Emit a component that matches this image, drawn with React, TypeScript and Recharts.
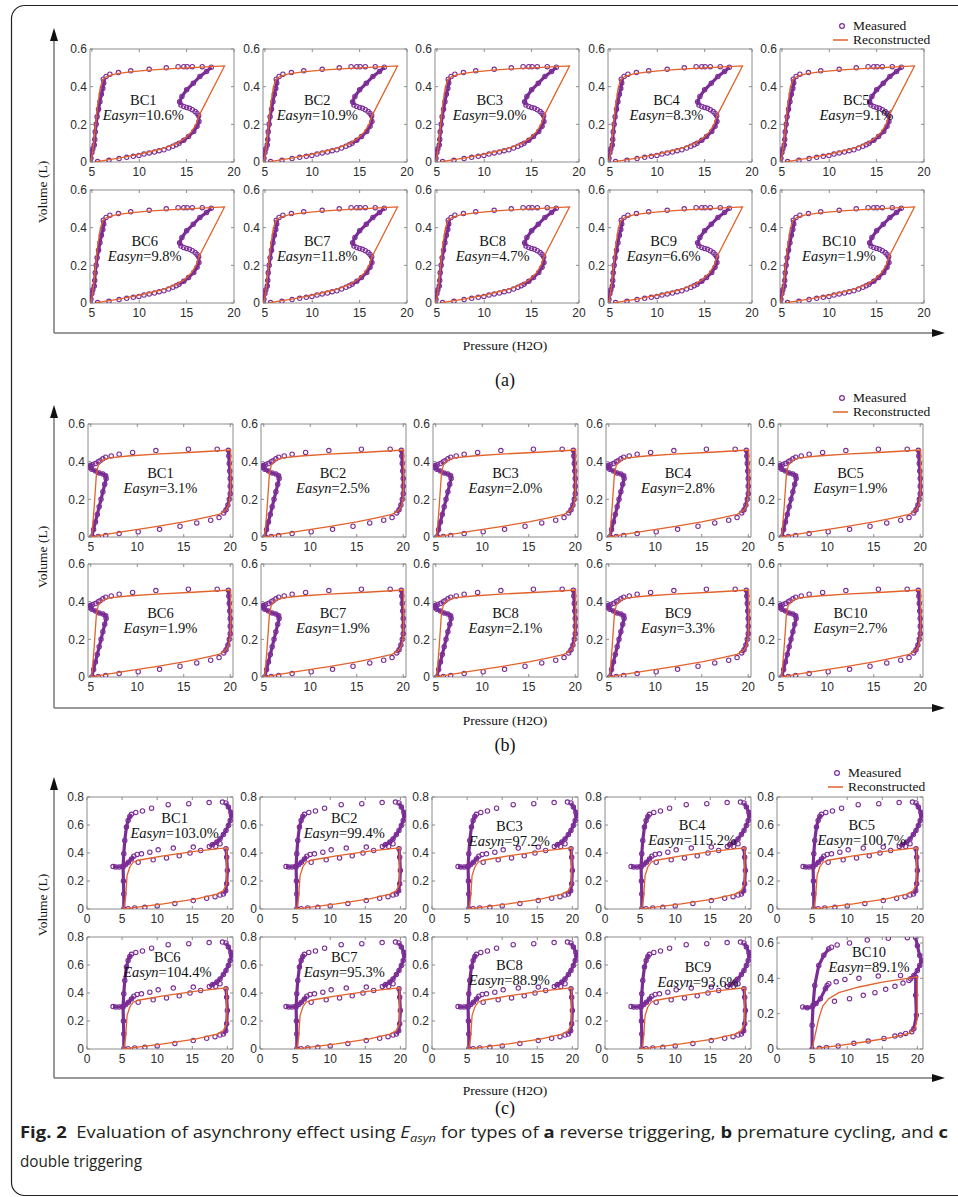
import React from 'react';
import { ScatterChart, Scatter, XAxis, YAxis, ReferenceArea } from 'recharts';

type P = [number, number];

// ---------- (a) reverse triggering ----------
const A_RISE: P[] = [[4.85, 0], [4.9, 0.02], [5.0, 0.05], [5.1, 0.07], [5.25, 0.09], [5.3, 0.12], [5.35, 0.16], [5.45, 0.2], [5.55, 0.24], [5.7, 0.28], [5.85, 0.32], [6.0, 0.36], [6.15, 0.39], [6.25, 0.42], [6.2, 0.44]];
const A_TOP: P[] = [[6.5, 0.454], [6.9, 0.466], [7.8, 0.475], [9.1, 0.484], [11.05, 0.492], [12.85, 0.5], [14.1, 0.506], [14.7, 0.506], [15.05, 0.506], [15.6, 0.506], [16.65, 0.506]];
const A_SDESC: P[] = [[17.6, 0.503], [17.1, 0.48], [16.4, 0.454], [15.7, 0.418], [15.0, 0.383], [14.5, 0.348], [14.26, 0.32], [14.4, 0.302]];
const A_SMID: P[] = [[14.7, 0.295], [15.0, 0.29], [15.3, 0.285], [15.6, 0.278], [15.9, 0.268], [16.1, 0.258]];
const A_SLOW: P[] = [[16.27, 0.245], [16.3, 0.215], [16.1, 0.19], [15.75, 0.162], [15.2, 0.136], [14.7, 0.115], [14.2, 0.1]];
const A_BOTTOM: P[] = [[13.9, 0.092], [13.55, 0.083], [13.1, 0.074], [12.6, 0.065], [12.1, 0.06], [11.6, 0.053], [11.05, 0.048], [10.5, 0.042], [9.96, 0.035], [9.37, 0.03], [8.67, 0.025], [7.87, 0.018], [6.8, 0.009], [5.6, 0.002]];
const A_RECON: P[] = [[4.85, 0], [5.0, 0.03], [5.2, 0.1], [5.4, 0.2], [5.6, 0.3], [5.9, 0.4], [6.2, 0.44], [6.6, 0.455], [7.5, 0.468], [9, 0.478], [11, 0.488], [13, 0.495], [15, 0.5], [17, 0.505], [19, 0.51], [16.3, 0.245], [16.0, 0.2], [15.5, 0.16], [14.8, 0.125], [14, 0.1], [13, 0.08], [12, 0.065], [10, 0.042], [8, 0.022], [6.5, 0.01], [5.4, 0]];

// ---------- (b) premature cycling ----------
const B_RISE: P[] = [[5.1, 0], [5.3, 0.04], [5.5, 0.08], [5.7, 0.12], [5.9, 0.16], [6.1, 0.2], [6.3, 0.24], [6.5, 0.28], [6.65, 0.31], [6.6, 0.325], [6.3, 0.335], [5.9, 0.34], [5.5, 0.35], [5.1, 0.36], [4.85, 0.37], [4.95, 0.38], [5.2, 0.385]];
const B_TOP: P[] = [[5.5, 0.39], [5.8, 0.4], [6.0, 0.405], [6.3, 0.415], [6.6, 0.424], [7.2, 0.43], [8.05, 0.44], [9.5, 0.449], [12.0, 0.459], [15.5, 0.466], [18.6, 0.466]];
const B_RIGHT: P[] = [[19.8, 0.46], [19.85, 0.43], [19.9, 0.39], [19.95, 0.35], [20.0, 0.31], [20.0, 0.27], [20.0, 0.23], [19.9, 0.2], [19.75, 0.17], [19.55, 0.145], [19.3, 0.128]];
const B_BOTTOM: P[] = [[18.8, 0.103], [17.9, 0.089], [16.4, 0.075], [14.6, 0.057], [12.4, 0.041], [10.1, 0.028], [8.05, 0.018], [6.6, 0.008], [5.8, 0.003], [5.2, 0]];
const B_RECON: P[] = [[5.1, 0], [5.35, 0.15], [5.6, 0.33], [5.8, 0.38], [6.2, 0.405], [7, 0.42], [9, 0.43], [12, 0.44], [16, 0.45], [20.05, 0.462], [20.05, 0.3], [20, 0.22], [19.85, 0.17], [19.5, 0.14], [18.8, 0.12], [17, 0.1], [15, 0.08], [12, 0.055], [9, 0.032], [6.5, 0.013], [5.1, 0]];

// ---------- (c) double triggering ----------
const C_RISE: P[] = [[5.24, 0], [5.24, 0.107], [5.19, 0.2], [5.14, 0.3], [5.24, 0.394], [5.38, 0.49], [5.62, 0.585], [5.86, 0.633], [6.1, 0.66], [6.33, 0.676]];
const C_HOOK: P[] = [[3.71, 0.303], [4.1, 0.3], [4.57, 0.3], [5.05, 0.303], [5.52, 0.318], [5.9, 0.334], [6.33, 0.358], [6.67, 0.377]];
const C_TOP: P[] = [[6.95, 0.69], [7.9, 0.7], [9.2, 0.72], [11.57, 0.745], [14.5, 0.752], [17.4, 0.76], [19.3, 0.764]];
const C_RTOP: P[] = [[19.8, 0.757], [20.14, 0.728], [20.5, 0.69], [20.6, 0.67], [20.4, 0.633], [20.14, 0.597], [19.8, 0.561], [19.43, 0.533], [18.95, 0.5], [18.5, 0.478], [17.9, 0.46], [17.43, 0.447]];
const C_MIDUP: P[] = [[7.14, 0.39], [7.76, 0.394], [8.95, 0.406], [10.14, 0.423], [12.29, 0.435], [15.14, 0.442]];
const C_MIDLOW: P[] = [[7.29, 0.334], [9.43, 0.351], [11.33, 0.365], [13.14, 0.38], [14.67, 0.4], [16.19, 0.418], [18.33, 0.447], [18.95, 0.466]];
const C_RLOW: P[] = [[19.8, 0.43], [19.9, 0.37], [20.0, 0.275], [19.9, 0.18], [19.76, 0.131], [19.43, 0.107]];
const C_BOTTOM: P[] = [[18.95, 0.1], [18.24, 0.088], [17.05, 0.076], [15.14, 0.06], [12.52, 0.04], [10.0, 0.022], [8.24, 0.012], [6.8, 0.007], [5.86, 0.002]];
const C_RECON: P[] = [[5.24, 0], [5.5, 0.08], [5.71, 0.239], [6.1, 0.3], [6.57, 0.334], [7.5, 0.35], [10.86, 0.38], [15.6, 0.413], [19.8, 0.437], [19.9, 0.437], [19.9, 0.18], [19.43, 0.131], [18.5, 0.107], [15.6, 0.072], [10.86, 0.036], [6.1, 0.007], [5.24, 0]];

// (c) BC10 (own y range)
const C10_RISE: P[] = [[5.0, 0], [5.0, 0.135], [5.14, 0.248], [5.38, 0.36], [5.95, 0.473], [6.67, 0.53], [7.38, 0.567]];
const C10_HOOK: P[] = [[3.67, 0.238], [4.3, 0.233], [5.0, 0.238], [5.57, 0.257], [6.19, 0.285], [6.9, 0.341], [7.14, 0.36]];
const C10_TOP: P[] = [[7.76, 0.576], [8.57, 0.589], [10.33, 0.6], [12.86, 0.617], [15.86, 0.627], [18.57, 0.63]];
const C10_RTOP: P[] = [[19.76, 0.63], [20.0, 0.585], [20.33, 0.529], [20.6, 0.5], [20.33, 0.473], [20.0, 0.445], [19.5, 0.416], [19.05, 0.398]];
const C10_MIDUP: P[] = [[7.38, 0.37], [8.43, 0.38], [9.67, 0.394], [11.67, 0.4], [14.43, 0.413], [17.6, 0.416]];
const C10_MIDLOW: P[] = [[8.19, 0.27], [10.33, 0.285], [12.29, 0.304], [13.95, 0.319], [15.48, 0.338], [16.8, 0.355], [17.95, 0.373], [18.8, 0.388]];
const C10_RLOW: P[] = [[19.76, 0.407], [19.76, 0.304], [19.86, 0.191], [19.5, 0.116], [19.2, 0.098]];
const C10_BOTTOM: P[] = [[18.33, 0.088], [17.6, 0.079], [16.8, 0.073], [15.24, 0.06], [13.0, 0.045], [10.95, 0.032], [8.71, 0.017], [7.05, 0.009], [6.05, 0.004]];
const C10_RECON: P[] = [[5.0, 0], [5.95, 0.173], [6.52, 0.243], [7.38, 0.285], [8.8, 0.319], [11.67, 0.351], [15.0, 0.379], [19.76, 0.407], [20.0, 0.407], [20.0, 0.173], [19.67, 0.116], [18.8, 0.088], [16.43, 0.066], [12.6, 0.041], [8.8, 0.019], [5.48, 0.004]];

// ---------- labels ----------
const BC_NAMES = ['BC1', 'BC2', 'BC3', 'BC4', 'BC5', 'BC6', 'BC7', 'BC8', 'BC9', 'BC10'];
const A_EASYN = ['10.6', '10.9', '9.0', '8.3', '9.1', '9.8', '11.8', '4.7', '6.6', '1.9'];
const B_EASYN = ['3.1', '2.5', '2.0', '2.8', '1.9', '1.9', '1.9', '2.1', '3.3', '2.7'];
const C_EASYN = ['103.0', '99.4', '97.2', '115.2', '100.7', '104.4', '95.3', '88.9', '93.6', '89.1'];

const X_TICKS_AB = [5, 10, 15, 20];
const X_TICKS_C = [0, 5, 10, 15, 20];
const Y_TICKS_06 = [0, 0.2, 0.4, 0.6];
const Y_TICKS_08 = [0, 0.2, 0.4, 0.6, 0.8];

// ---------- layout (not data) ----------
const A_LABEL_FX = [0.37, 0.38, 0.38, 0.41, 0.53, 0.38, 0.38, 0.4, 0.39, 0.41];
const C_LABEL_FX = [0.6, 0.58, 0.53, 0.6, 0.58, 0.55, 0.58, 0.53, 0.64, 0.63];
const C_LABEL_DY = [21, 21, 29, 28, 28, 20, 20, 28, 30, 15];

const PURPLE = '#7B2D96';
const ORANGE = '#E2622A';
const FRAME = '#8c8c8c';
const SERIF = "'Liberation Serif', 'Times New Roman', serif";
const SANS = "'Liberation Sans', Arial, sans-serif";
const toPts = (a: P[]) => a.map(([x, y]) => ({ x, y }));

const Circle = (props: any) => {
  const { cx, cy } = props;
  if (cx == null || cy == null) return <g />;
  return <circle cx={cx} cy={cy} r={2.2} fill="none" stroke={PURPLE} strokeWidth={1.1} />;
};
const Nothing = () => <g />;

type PanelProps = {
  left: number; top: number; w: number; h: number;
  xDomain: [number, number]; yDomain: [number, number];
  xTicks: number[]; yTicks: number[];
  dense: P[][]; sparse: P[][]; recon: P[];
  name: string; easyn: string; fx: number; dy: number;
};

function Panel(p: PanelProps) {
  const ml = 30, mt = 6, mr = 10, xh = 22;
  const XTick = (t: any) => {
    const x = t.x;
    return (
      <g>
        <line x1={x} x2={x} y1={mt + p.h} y2={mt + p.h - 3} stroke={FRAME} strokeWidth={1} />
        <line x1={x} x2={x} y1={mt} y2={mt + 3} stroke={FRAME} strokeWidth={1} />
        <text x={x} y={mt + p.h + 14} textAnchor="middle" fontFamily={SANS} fontSize={12} fill="#2b2b2b">{t.payload.value}</text>
      </g>
    );
  };
  const YTick = (t: any) => {
    const y = t.y;
    return (
      <g>
        <line x1={ml} x2={ml + 3} y1={y} y2={y} stroke={FRAME} strokeWidth={1} />
        <line x1={ml + p.w} x2={ml + p.w - 3} y1={y} y2={y} stroke={FRAME} strokeWidth={1} />
        <text x={ml - 3} y={y + 4.2} textAnchor="end" fontFamily={SANS} fontSize={12} fill="#2b2b2b">{t.payload.value}</text>
      </g>
    );
  };
  return (
    <div style={{ position: 'absolute', left: p.left - ml, top: p.top - mt }}>
      <ScatterChart width={ml + p.w + mr} height={mt + p.h + xh} margin={{ top: mt, right: mr, left: 0, bottom: 0 }}>
        <XAxis type="number" dataKey="x" domain={p.xDomain} ticks={p.xTicks} allowDataOverflow height={xh}
          axisLine={false} tickLine={false} tickSize={0} tickMargin={0} tick={XTick} interval={0} />
        <YAxis type="number" dataKey="y" domain={p.yDomain} ticks={p.yTicks} allowDataOverflow width={ml}
          axisLine={false} tickLine={false} tickSize={0} tickMargin={0} tick={YTick} interval={0} />
        <ReferenceArea x1={p.xDomain[0]} x2={p.xDomain[1]} y1={p.yDomain[0]} y2={p.yDomain[1]}
          fill="none" fillOpacity={0} stroke={FRAME} strokeWidth={1} ifOverflow="visible" />
        {p.dense.map((d, i) => (
          <Scatter key={'d' + i} data={toPts(d)} isAnimationActive={false} shape={Circle}
            line={{ stroke: PURPLE, strokeWidth: 3.2 }} lineJointType="linear" />
        ))}
        {p.sparse.map((d, i) => (
          <Scatter key={'s' + i} data={toPts(d)} isAnimationActive={false} shape={Circle} />
        ))}
        <Scatter data={toPts(p.recon)} isAnimationActive={false} shape={Nothing}
          line={{ stroke: ORANGE, strokeWidth: 1.3 }} lineJointType="linear" />
      </ScatterChart>
      <div style={{ position: 'absolute', left: ml + p.w * p.fx, top: mt + p.dy, transform: 'translate(-50%, -50%)', whiteSpace: 'nowrap', fontFamily: SERIF, fontSize: 14.5, color: '#111', lineHeight: 1 }}>{p.name}</div>
      <div style={{ position: 'absolute', left: ml + p.w * p.fx, top: mt + p.dy + 15, transform: 'translate(-50%, -50%)', whiteSpace: 'nowrap', fontFamily: SERIF, fontSize: 14.5, color: '#111', lineHeight: 1 }}>
        <i>Easyn</i>={p.easyn}%
      </div>
    </div>
  );
}

function Legend({ x, y }: { x: number; y: number }) {
  const style: React.CSSProperties = { position: 'absolute', fontFamily: SERIF, fontSize: 13.5, color: '#111', whiteSpace: 'nowrap', lineHeight: 1 };
  return (
    <>
      <svg style={{ position: 'absolute', left: x - 10, top: y - 8 }} width={24} height={30}>
        <circle cx={10} cy={8} r={2.4} fill="none" stroke={PURPLE} strokeWidth={1.2} />
        <line x1={1} y1={22} x2={16} y2={22} stroke={ORANGE} strokeWidth={1.5} />
      </svg>
      <div style={{ ...style, left: x + 11, top: y - 7 }}>Measured</div>
      <div style={{ ...style, left: x + 11, top: y + 7 }}>Reconstructed</div>
    </>
  );
}

function GroupFrame({ tipY, bottomY, labelY, letterY, volY, letter }: { tipY: number; bottomY: number; labelY: number; letterY: number; volY: number; letter: string }) {
  return (
    <>
      <svg style={{ position: 'absolute', left: 0, top: 0 }} width={958} height={1197} pointerEvents="none">
        <line x1={54} y1={tipY + 10} x2={54} y2={bottomY} stroke="#777" strokeWidth={1.5} />
        <polygon points={`${54},${tipY} ${50},${tipY + 13} ${58},${tipY + 13}`} fill="#111" />
        <line x1={54} y1={bottomY} x2={934} y2={bottomY} stroke="#777" strokeWidth={1.5} />
        <polygon points={`${945},${bottomY} ${932},${bottomY - 4} ${932},${bottomY + 4}`} fill="#111" />
      </svg>
      <div style={{ position: 'absolute', left: 43, top: volY, transform: 'translate(-50%, -50%) rotate(-90deg)', fontFamily: SERIF, fontSize: 13.5, whiteSpace: 'nowrap', color: '#111' }}>Volume (L)</div>
      <div style={{ position: 'absolute', left: 505, top: labelY, transform: 'translate(-50%, -50%)', fontFamily: SERIF, fontSize: 13.5, whiteSpace: 'nowrap', color: '#111' }}>Pressure (H2O)</div>
      <div style={{ position: 'absolute', left: 505, top: letterY, transform: 'translate(-50%, -50%)', fontFamily: SERIF, fontSize: 18, whiteSpace: 'nowrap', color: '#111', lineHeight: 1 }}>({letter})</div>
    </>
  );
}

const A_LEFTS = [90, 262.5, 435, 607.5, 780];
const B_LEFTS = [88, 260.5, 433, 605.5, 778];
const C_LEFTS = [87, 259.5, 432, 604.5, 777];

export default function App() {
  const panels: React.ReactNode[] = [];
  for (let i = 0; i < 10; i++) {
    const col = i % 5, row = Math.floor(i / 5);
    panels.push(
      <Panel key={'a' + i} left={A_LEFTS[col]} top={[49, 190][row]} w={144} h={113}
        xDomain={[4.8, 20]} yDomain={[0, 0.6]} xTicks={X_TICKS_AB} yTicks={Y_TICKS_06}
        dense={[A_RISE, A_SDESC, A_SLOW]} sparse={[A_TOP, A_SMID, A_BOTTOM]} recon={A_RECON}
        name={BC_NAMES[i]} easyn={A_EASYN[i]} fx={A_LABEL_FX[i]} dy={51} />
    );
    panels.push(
      <Panel key={'b' + i} left={B_LEFTS[col]} top={[424, 564][row]} w={145} h={113}
        xDomain={[4.7, 20.3]} yDomain={[0, 0.6]} xTicks={X_TICKS_AB} yTicks={Y_TICKS_06}
        dense={[B_RISE, B_RIGHT]} sparse={[B_TOP, B_BOTTOM]} recon={B_RECON}
        name={BC_NAMES[i]} easyn={B_EASYN[i]} fx={0.5} dy={49} />
    );
    const is10 = i === 9;
    panels.push(
      <Panel key={'c' + i} left={C_LEFTS[col]} top={[797, 937][row]} w={146} h={112}
        xDomain={[0, 20.8]} yDomain={is10 ? [0, 0.634] : [0, 0.8]} xTicks={X_TICKS_C} yTicks={is10 ? Y_TICKS_06 : Y_TICKS_08}
        dense={is10 ? [C10_RISE, C10_HOOK, C10_RTOP, C10_RLOW] : [C_RISE, C_HOOK, C_RTOP, C_RLOW]}
        sparse={is10 ? [C10_TOP, C10_MIDUP, C10_MIDLOW, C10_BOTTOM] : [C_TOP, C_MIDUP, C_MIDLOW, C_BOTTOM]}
        recon={is10 ? C10_RECON : C_RECON}
        name={BC_NAMES[i]} easyn={C_EASYN[i]} fx={C_LABEL_FX[i]} dy={C_LABEL_DY[i]} />
    );
  }
  return (
    <div style={{ position: 'absolute', left: 0, top: 0, width: 958, height: 1197, background: '#fff', overflow: 'hidden' }}>
      <svg style={{ position: 'absolute', left: 0, top: 0 }} width={958} height={1197}>
        <rect x={11.5} y={5.5} width={980} height={1190} rx={13} fill="none" stroke="#222" strokeWidth={1.2} />
      </svg>
      <GroupFrame tipY={28} bottomY={333} labelY={346} letterY={380} volY={192} letter="a" />
      <GroupFrame tipY={405} bottomY={708} labelY={721} letterY={745} volY={557} letter="b" />
      <GroupFrame tipY={777} bottomY={1078} labelY={1091} letterY={1108} volY={905} letter="c" />
      {panels}
      <Legend x={842} y={26} />
      <Legend x={842} y={398} />
      <Legend x={837} y={773} />
      <svg style={{ position: 'absolute', left: 0, top: 1112 }} width={958} height={70}>
        <text x={20} y={26} fontFamily="'Open Sans', sans-serif" fontSize={16.5} fill="#231f20" textLength={928} lengthAdjust="spacingAndGlyphs">
          <tspan fontWeight="bold">{'Fig. 2'}</tspan>
          <tspan>{'\u00a0 Evaluation of asynchrony effect using '}</tspan>
          <tspan fontStyle="italic">{'E'}</tspan>
          <tspan fontStyle="italic" fontSize={11.5} dy={4}>{'asyn'}</tspan>
          <tspan dy={-4}>{' for types of '}</tspan>
          <tspan fontWeight="bold">{'a'}</tspan>
          <tspan>{' reverse triggering, '}</tspan>
          <tspan fontWeight="bold">{'b'}</tspan>
          <tspan>{' premature cycling, and '}</tspan>
          <tspan fontWeight="bold">{'c'}</tspan>
        </text>
        <text x={20} y={55} fontFamily="'Open Sans', sans-serif" fontSize={16.5} fill="#231f20" textLength={122} lengthAdjust="spacingAndGlyphs">double triggering</text>
      </svg>
    </div>
  );
}
